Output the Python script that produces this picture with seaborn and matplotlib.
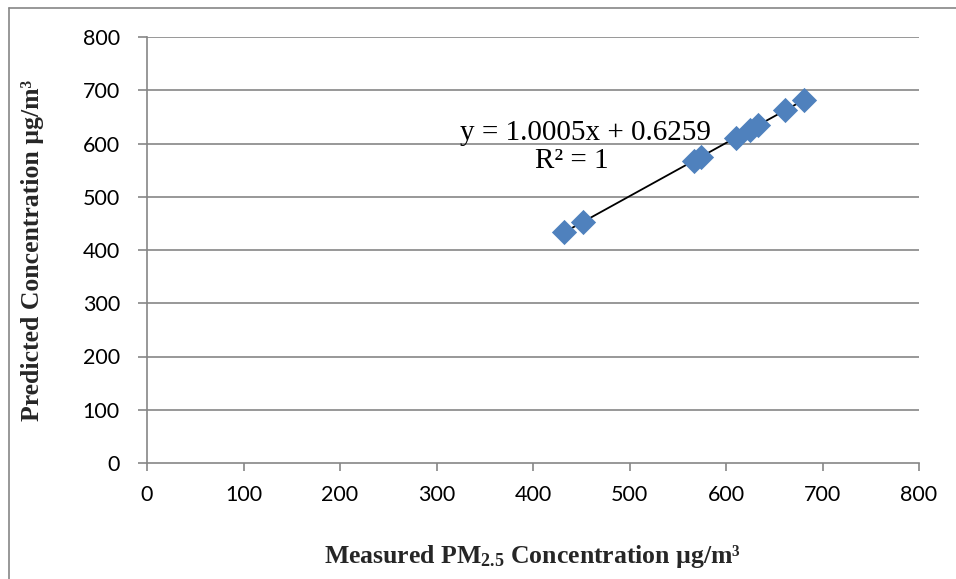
import matplotlib
matplotlib.use("Agg")
import matplotlib.pyplot as plt
import seaborn as sns
import pandas as pd
from matplotlib.lines import Line2D

measured = [432, 452, 567, 574, 610, 625, 633, 661, 681]
predicted = [433, 453, 568, 575, 611, 626, 634, 662, 682]
x_ticks = [0, 100, 200, 300, 400, 500, 600, 700, 800]
y_ticks = [0, 100, 200, 300, 400, 500, 600, 700, 800]
equation = "y = 1.0005x + 0.6259"
r2_text = "R² = 1"

df = pd.DataFrame({"measured": measured, "predicted": predicted})

sns.set_theme(style="white")
plt.rcParams['font.family'] = ['Lato', 'DejaVu Sans']
plt.rcParams['mathtext.fontset'] = 'custom'
plt.rcParams['mathtext.rm'] = 'Liberation Serif'
plt.rcParams['mathtext.it'] = 'Liberation Serif:italic'
plt.rcParams['mathtext.bf'] = 'Liberation Serif:bold'

fig = plt.figure(figsize=(9.56, 5.79), dpi=100)
ax = fig.add_axes([147/956, 1-463/579, (919-147)/956, (463-37)/579])

gray = "#868686"
for yv in y_ticks[1:]:
    ax.axhline(yv, color=gray, lw=1.2, zorder=0)

sns.regplot(data=df, x="measured", y="predicted", ax=ax, scatter=False, ci=None,
            truncate=True, line_kws=dict(color="black", lw=1.3, zorder=2))
sns.scatterplot(data=df, x="measured", y="predicted", ax=ax, marker="D", s=165,
                color="#4F81BD", edgecolor="#4F81BD", linewidth=0, zorder=3)

ax.set_xlim(0, 800)
ax.set_ylim(0, 800)
ax.set_xticks(x_ticks)
ax.set_yticks(y_ticks)
ax.set_xticklabels([str(v) for v in x_ticks], fontsize=15.5)
ax.set_yticklabels([str(v) for v in y_ticks], fontsize=15.5)
ax.tick_params(axis="x", length=6, width=1.2, color=gray, direction="out",
               bottom=True, pad=10, labelcolor="black")
ax.tick_params(axis="y", length=6.5, width=1.2, color=gray, direction="out",
               left=True, pad=13, labelcolor="black")
for side in ["top", "right"]:
    ax.spines[side].set_visible(False)
for side in ["left", "bottom"]:
    ax.spines[side].set_color(gray)
    ax.spines[side].set_linewidth(1.2)

ax.set_xlabel(r"Measured PM$_{\mathbf{2.5}}$ Concentration µg/m³",
              fontsize=18.5, fontweight="bold", family="Liberation Serif")
ax.set_ylabel(r"Predicted Concentration µg/m³",
              fontsize=18.5, fontweight="bold", family="Liberation Serif")
ax.xaxis.set_label_coords((533-147)/772, (463-543)/426)
ax.yaxis.set_label_coords((44-147)/772, 0.5)

ax.text(454, 619, equation, ha="center", va="center", fontsize=21,
        family="Liberation Serif", color="black")
ax.text(440, 567, r2_text, ha="center", va="center", fontsize=21,
        family="Liberation Serif", color="black")

# outer chart border (top and left visible)
fig.add_artist(Line2D([9/956, 1.0], [1-8/579, 1-8/579], color=gray, lw=1.2, transform=fig.transFigure))
fig.add_artist(Line2D([9/956, 9/956], [0, 1-8/579], color=gray, lw=1.2, transform=fig.transFigure))

fig.savefig("out.png", dpi=100)
